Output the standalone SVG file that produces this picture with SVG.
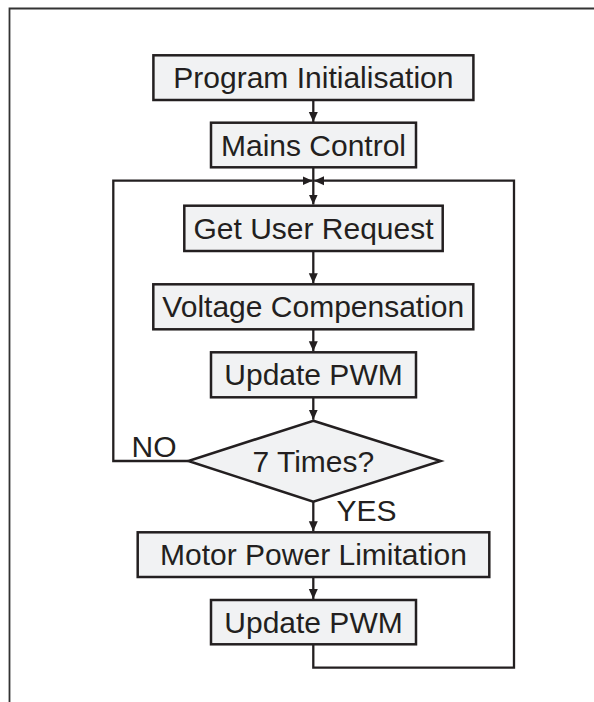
<svg xmlns="http://www.w3.org/2000/svg" width="594" height="702" viewBox="0 0 594 702">
<defs>
<style>
.box{fill:#f1f2f3;stroke:#231f20;stroke-width:2.5}
.lbl{font-family:"Liberation Sans",Arial,Helvetica,sans-serif;font-size:30px;fill:#231f20}
.c{text-anchor:middle}
.ln{fill:none;stroke:#231f20;stroke-width:2.3}
</style>
<marker id="ah" viewBox="0 0 10 10" refX="10" refY="5" markerWidth="10" markerHeight="10" markerUnits="userSpaceOnUse" orient="auto">
<path d="M0,0.5 L10,5 L0,9.5 Z" fill="#231f20"/>
</marker>
</defs>
<rect width="594" height="702" fill="#ffffff"/>
<path d="M9.5,702 V8.5 H594" fill="none" stroke="#333" stroke-width="1.8"/>
<g id="connectors">
<line class="ln" x1="313.3" y1="100" x2="313.3" y2="122" marker-end="url(#ah)"/>
<line class="ln" x1="313.3" y1="167.3" x2="313.3" y2="204.5" marker-end="url(#ah)"/>
<line class="ln" x1="313.3" y1="251" x2="313.3" y2="283.3" marker-end="url(#ah)"/>
<line class="ln" x1="313.3" y1="329.3" x2="313.3" y2="351.3" marker-end="url(#ah)"/>
<line class="ln" x1="313.3" y1="397.3" x2="313.3" y2="419.7" marker-end="url(#ah)"/>
<line class="ln" x1="313.3" y1="501.7" x2="313.3" y2="531.3" marker-end="url(#ah)"/>
<line class="ln" x1="313.3" y1="577" x2="313.3" y2="599" marker-end="url(#ah)"/>
<path class="ln" d="M188.3,461 H113.3 V180.7 H312.5" marker-end="url(#ah)"/>
<path class="ln" d="M313.3,644.3 V667.7 H514 V180.7 H314.1" marker-end="url(#ah)"/>
</g>
<g id="n1"><rect class="box" x="153.4" y="55.3" width="320" height="44.7"/><text class="lbl c" x="313.4" y="87.5">Program Initialisation</text></g>
<g id="n2"><rect class="box" x="211" y="122.7" width="205" height="44.6"/><text class="lbl c" x="313.5" y="155.5">Mains Control</text></g>
<g id="n3"><rect class="box" x="184.3" y="205.7" width="258.4" height="45.3"/><text class="lbl c" x="313.5" y="238.5">Get User Request</text></g>
<g id="n4"><rect class="box" x="153.3" y="284.3" width="320" height="45"/><text class="lbl c" x="313.3" y="317">Voltage Compensation</text></g>
<g id="n5"><rect class="box" x="211" y="352.3" width="205" height="45"/><text class="lbl c" x="313.5" y="385">Update PWM</text></g>
<g id="n6"><polygon class="box" points="313.3,420.7 440.7,461 313.3,501.7 188.3,461"/><text class="lbl c" x="313.3" y="471.5">7 Times?</text></g>
<g id="n7"><rect class="box" x="137.7" y="532.3" width="351.6" height="44.7"/><text class="lbl c" x="313.5" y="565">Motor Power Limitation</text></g>
<g id="n8"><rect class="box" x="211" y="600" width="205" height="44.3"/><text class="lbl c" x="313.5" y="632.5">Update PWM</text></g>
<text class="lbl" x="131.5" y="456.5">NO</text>
<text class="lbl" x="336.5" y="521">YES</text>
</svg>
